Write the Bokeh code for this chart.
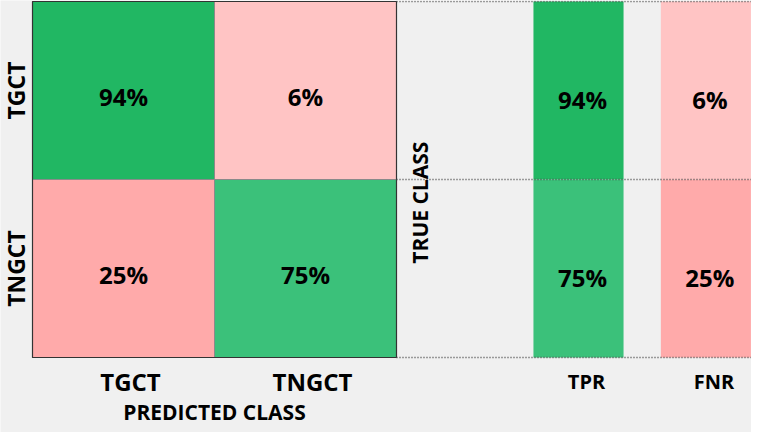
from bokeh.plotting import figure
from bokeh.models import Range1d, ColumnDataSource
from bokeh.core.properties import value
from bokeh.embed import file_html
from bokeh.resources import INLINE

# ---- data ----
classes = ["TGCT", "TNGCT"]            # true rows (top->bottom) / predicted columns (left->right)
matrix_pct = [[94, 6],                 # true TGCT  -> predicted TGCT, TNGCT
              [25, 75]]                # true TNGCT -> predicted TGCT, TNGCT
rate_labels = ["TPR", "FNR"]
tpr = [94, 75]
fnr = [6, 25]

# ---- styles ----
BG = "#f0f0f0"
C_GREEN_DARK = "#21b763"
C_GREEN = "#3bc17a"
C_PINK_LIGHT = "#ffc4c4"
C_PINK = "#ffaaaa"
FONT = value("Open Sans")

def cell_color(v, correct):
    if correct:
        return C_GREEN_DARK if v >= 90 else C_GREEN
    return C_PINK_LIGHT if v < 10 else C_PINK

n = len(classes)
W, H = 751, 432
px_x = 182.0   # px per unit in x
px_y = 178.0   # px per unit in y
left_px = 32
top_px = 1

p = figure(width=W, height=H, output_backend="svg", toolbar_location=None,
           x_range=Range1d(-left_px / px_x, (W - left_px) / px_x),
           y_range=Range1d(-(H - top_px - n * px_y) / px_y, n + top_px / px_y),
           min_border=0, background_fill_color=BG, border_fill_color=BG,
           outline_line_color=None)
p.axis.visible = False
p.grid.visible = False

# confusion matrix cells
xs, ys, cols, txt = [], [], [], []
for i, row in enumerate(matrix_pct):
    for j, v in enumerate(row):
        xs.append(j + 0.5)
        ys.append(n - i - 0.5)
        cols.append(cell_color(v, i == j))
        txt.append(f"{v}%")
src = ColumnDataSource(dict(x=xs, y=ys, c=cols, t=txt))
p.rect("x", "y", width=1, height=1, source=src, fill_color="c",
       line_color="#8a8a8a", line_width=1)
p.rect(x=n / 2, y=n / 2, width=n, height=n, fill_color=None,
       line_color="#333333", line_width=1.2)
p.text("x", "y", text="t", source=src, text_font=FONT, text_font_style="bold",
       text_font_size="24px", text_align="center", text_baseline="middle",
       y_offset=6, text_color="#000000")

# rate bars
bar_x = [n + 1.0, n + 1.70]
bar_w = 0.495
rx, ry, rc, rt = [], [], [], []
for i in range(n):
    rx.append(bar_x[0]); ry.append(n - i - 0.5); rc.append(cell_color(tpr[i], True)); rt.append(f"{tpr[i]}%")
    rx.append(bar_x[1]); ry.append(n - i - 0.5); rc.append(cell_color(fnr[i], False)); rt.append(f"{fnr[i]}%")
rsrc = ColumnDataSource(dict(x=rx, y=ry, c=rc, t=rt))
p.rect("x", "y", width=bar_w, height=1, source=rsrc, fill_color="c", line_color=None)
p.text("x", "y", text="t", source=rsrc, text_font=FONT, text_font_style="bold",
       text_font_size="24px", text_align="center", text_baseline="middle",
       y_offset=9, x_offset=4, text_color="#000000")

# dotted guide lines
p.segment(x0=[n] * (n + 1), x1=[bar_x[1] + bar_w / 2] * (n + 1),
          y0=list(range(n + 1)), y1=list(range(n + 1)),
          line_color="#444444", line_width=1.3, line_dash="1 2")

# labels
p.text(x=[j + 0.5 for j in range(n)], y=[-0.135] * n, text=classes, text_font=FONT,
       text_font_style="bold", text_font_size="24px", text_align="center",
       text_baseline="middle", x_offset=7, text_color="#000000")
p.text(x=[-0.09] * n, y=[n - i - 0.5 for i in range(n)], text=classes, angle=1.5708,
       text_font=FONT, text_font_style="bold", text_font_size="23px",
       text_align="center", text_baseline="middle", text_color="#000000")
p.text(x=[n / 2], y=[-0.305], text=["PREDICTED CLASS"], text_font=FONT,
       text_font_style="bold", text_font_size="21px", text_align="center",
       text_baseline="middle", text_color="#000000")
p.text(x=[n + 0.13], y=[0.87], text=["TRUE CLASS"], angle=1.5708, text_font=FONT,
       text_font_style="bold", text_font_size="21px", text_align="center",
       text_baseline="middle", text_color="#000000")
p.text(x=bar_x, y=[-0.135] * 2, text=rate_labels, text_font=FONT,
       text_font_style="bold", text_font_size="20px", text_align="center",
       text_baseline="middle", x_offset=8, text_color="#000000")

open("out.html", "w").write(file_html(p, INLINE))
